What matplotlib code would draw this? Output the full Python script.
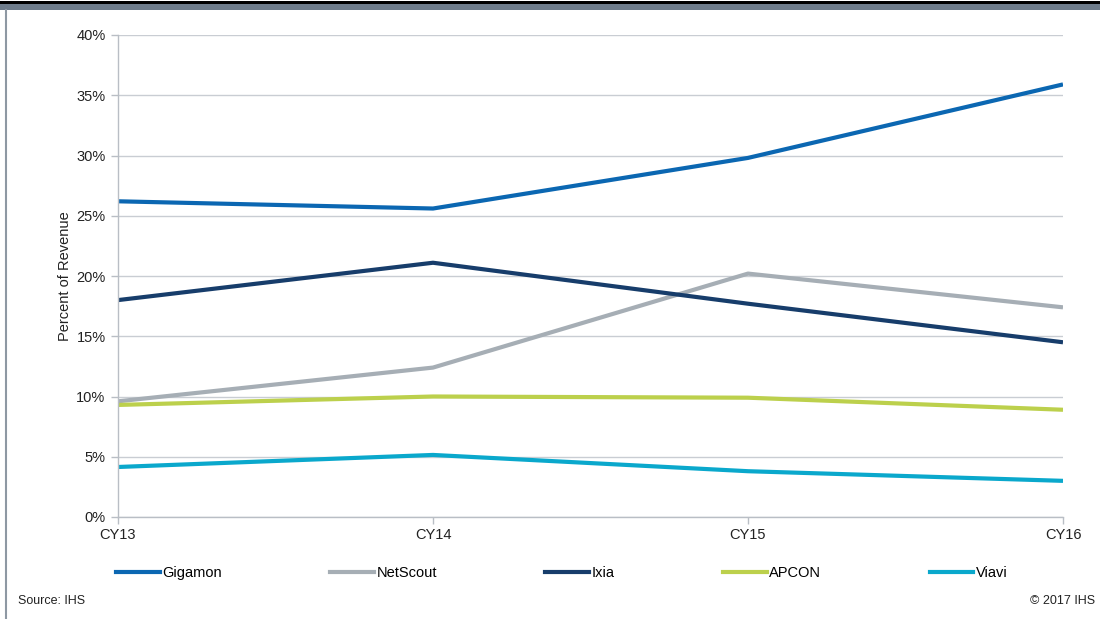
import matplotlib.pyplot as plt
from matplotlib.lines import Line2D
from matplotlib.patches import Rectangle
from matplotlib.ticker import FuncFormatter

plt.rcParams['font.family'] = ['Liberation Sans', 'DejaVu Sans']

# =============================================================================
# Data
# =============================================================================
years = ['CY13', 'CY14', 'CY15', 'CY16']
gigamon = [26.2, 25.6, 29.8, 35.9]
netscout = [9.6, 12.4, 20.2, 17.4]
ixia = [18.0, 21.1, 17.7, 14.5]
apcon = [9.3, 10.0, 9.9, 8.9]
viavi = [4.15, 5.15, 3.8, 3.0]

series = [('Gigamon', gigamon, '#0b67b2'),
          ('NetScout', netscout, '#a6aeb5'),
          ('Ixia', ixia, '#173d6b'),
          ('APCON', apcon, '#bcd04c'),
          ('Viavi', viavi, '#0aa8cc')]

# =============================================================================
# Figure
# =============================================================================
fig = plt.figure(figsize=(11, 6.19), dpi=100)
ax = fig.add_axes([118 / 1100, 1 - 517 / 619, 945 / 1100, 482 / 619])

x = range(len(years))
for name, vals, col in series:
    ax.plot(x, vals, color=col, linewidth=3, solid_capstyle='butt', label=name)

ax.set_xlim(0, len(years) - 1)
ax.set_ylim(0, 40)
ax.set_yticks(range(0, 41, 5))
ax.yaxis.set_major_formatter(FuncFormatter(lambda v, p: f'{v:.0f}%'))
ax.set_xticks(list(x))
ax.set_xticklabels(years)
ax.grid(axis='y', color='#c9cdd3', linewidth=1)
ax.set_axisbelow(True)

# Box off
for s in ['top', 'right']:
    ax.spines[s].set_visible(False)
for s in ['left', 'bottom']:
    ax.spines[s].set_color('#b9bec5')
    ax.spines[s].set_linewidth(1)
ax.tick_params(axis='both', colors='#b9bec5', length=5, width=1, labelsize=10.5,
               labelcolor='#222222', direction='out')
ax.tick_params(axis='y', pad=4)
ax.tick_params(axis='x', pad=3)
ax.set_ylabel('Percent of Revenue', fontsize=10.5, color='#222222', labelpad=3)

# Legend
handles = [Line2D([0], [0], color=c, linewidth=3) for _, _, c in series]
labels = [n for n, _, _ in series]
lgd = ax.legend(handles, labels, loc='center left', bbox_to_anchor=(-0.002, -0.116),
                ncol=5, frameon=False, fontsize=10.5, handlelength=3.0,
                handletextpad=0.15, columnspacing=7.45, borderpad=0,
                borderaxespad=0)

# Footer and decorations
fig.text(18 / 1100, 1 - 601 / 619, 'Source: IHS', fontsize=9, color='#222222',
         va='center', ha='left')
fig.text(1095 / 1100, 1 - 601 / 619, '\u00a9 2017 IHS', fontsize=9, color='#222222',
         va='center', ha='right')
fig.add_artist(Rectangle((0, 1 - 3.5 / 619), 1, 3 / 619, transform=fig.transFigure,
                         color='black', lw=0))
fig.add_artist(Rectangle((0, 1 - 10 / 619), 1, 6 / 619, transform=fig.transFigure,
                         color='#6e7c8b', lw=0))
fig.add_artist(Line2D([6 / 1100, 6 / 1100], [0, 1 - 10 / 619], transform=fig.transFigure,
                      color='#8e98a3', linewidth=1.5))

fig.savefig('out.png', dpi=100)
